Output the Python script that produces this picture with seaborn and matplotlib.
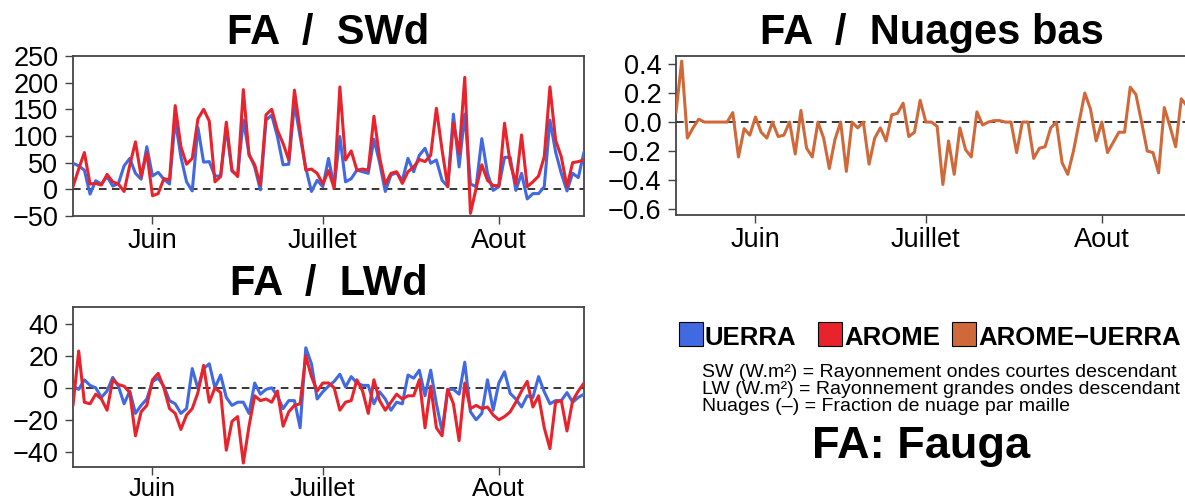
import numpy as np
import pandas as pd
import matplotlib
matplotlib.use("Agg")
import matplotlib.pyplot as plt
import seaborn as sns
from matplotlib.patches import Rectangle

# ---------------- data ----------------
start_date = "2018-05-18"
n_days = 91
month_ticks = ["2018-06-01", "2018-07-01", "2018-08-01"]
month_labels = ["Juin", "Juillet", "Aout"]

sw_uerra = [49, 44, 36, -9, 16, 10, 24, 6, 11, 44, 58, 30, 19, 80, 25, 32, 19, 10, 130, 61,
            14, -3, 116, 51, 52, 25, 25, 116, 34, 26, 130, 67, 42, -1, 130, 139, 99, 46, 47, 161,
            99, 40, -4, 17, 5, 58, 5, 99, 14, 20, 36, 33, 30, 94, 50, -4, 27, 31, 17, 58,
            33, 64, 77, 49, 55, 17, 5, 141, 42, 141, 10, 5, 95, 30, -2, 5, 60, 60, -2, 30,
            -18, -8, -8, 5, 130, 70, 30, -3, 30, 22, 70]
sw_arome = [5, 38, 69, 10, 11, 8, 28, 14, 10, -4, 45, 89, 24, 69, -12, -8, 20, 18, 157, 80,
            47, 58, 132, 150, 128, 14, 24, 126, 36, 24, 187, 64, 46, 8, 140, 150, 111, 86, 55, 186,
            110, 36, 38, 30, 10, 35, 2, 192, 55, 72, 36, 38, 36, 137, 60, 10, 30, 33, 11, 33,
            42, 56, 52, 64, 152, 74, 5, 124, 67, 210, -45, 2, 46, 17, 7, 7, 124, 49, 10, 102,
            5, 14, 25, 61, 192, 92, 61, 5, 50, 52, 55]
lw_uerra = [1, -1, 5, 1.5, 0, -6, -2, 6.5, 1, -10, -2, -16, -11, -7, 4, 6, 1, -8, -10, -16,
            -13, 12, -0.5, 12, 15, 0, 8, -6, -11, -9, -9, -16, 3, -4, -1, 0, -5, -13, -8, -8,
            -25, 25, 15, -7, -2.5, 1, 4, 8.5, 0.5, 7, 3, 1.5, 1.5, -10, -2.5, -7, -14, -9, -10, 8,
            6, 11, -5, 11, -10, -27, -1, -1, -4, 16, -15, -20, -16, 5, -14, 3, 10, -3.5, -7, -12,
            -5, -6, 7, -2.5, -10, -8, -8, -3, -9, -6, -4]
lw_arome = [-11, 23, -9, -10, -4, -7, -14, 5, 2, 1, -3, -30, -15, -11, 5, 9, 0, -13, -16, -26,
            -17, -13, -3, 14, -9, 0, -3, -39, -21, -18, -47, -24, -5, -8, -7, -9, -2, -24, -15, -11,
            -10, 20, 7, -2, 3, 3, 0, -14, -9, -8, 5, -2, -16, 5, -8, -14, -9, -4, -7, -5,
            -5, 5, -25, 1, -25, -30, -1, -10, -33, 3, -13, -11, -13, -12, -17, -20, -18, -15, -9, -2,
            4, -12, -5, -25, -38, -9, -8, -27, -8, -2, 3]
nuages_diff = [0.065, 0.42, -0.11, -0.04, 0.02, 0, 0, 0, 0, 0, 0.065, -0.24, -0.045, -0.09, 0.035,
               -0.07, -0.11, 0, -0.10, -0.09, 0, -0.22, 0.08, -0.18, -0.24, 0, -0.11, -0.32, -0.12, 0,
               -0.34, 0, -0.04, 0, -0.29, -0.11, -0.04, -0.13, 0.05, 0.06, 0.13, -0.10, -0.07, 0.15, 0,
               0, -0.03, -0.43, -0.13, -0.36, -0.04, -0.19, -0.24, 0.07, -0.02, 0, 0.01, 0.01, 0, 0,
               -0.21, 0, 0, -0.25, -0.18, -0.17, -0.04, 0, -0.28, -0.36, -0.20, 0.0, 0.20, 0.09, -0.13,
               0, -0.21, -0.14, -0.07, -0.07, 0.24, 0.19, 0, -0.20, -0.21, -0.35, 0.10, -0.03, -0.17, 0.16,
               0.11]

legend_names = ["UERRA", "AROME", "AROME\u2212UERRA"]
info_lines = ["SW (W.m\u00b2) = Rayonnement ondes courtes descendant",
              "LW (W.m\u00b2) = Rayonnement grandes ondes descendant",
              "Nuages (\u2013) = Fraction de nuage par maille"]
site_label = "FA: Fauga"

# ---------------- style ----------------
C_UERRA = "#4169e1"
C_AROME = "#e8232b"
C_DIFF = "#d0693a"

sns.set_style("ticks")
plt.rcParams["font.family"] = ["Liberation Sans", "DejaVu Sans"]
for k in ["text.color", "axes.labelcolor", "xtick.color", "ytick.color"]:
    plt.rcParams[k] = "black"

dates = pd.date_range(start_date, periods=n_days, freq="D")
tick_dates = pd.to_datetime(month_ticks)

W, H = 1185, 501
fig = plt.figure(figsize=(W / 100, H / 100), dpi=100)


def ax_at(x0, y0, x1, y1):
    return fig.add_axes([x0 / W, 1 - y1 / H, (x1 - x0) / W, (y1 - y0) / H])


def style_axes(ax, title, ylim, yticks, yfmt):
    ax.axhline(0, color="black", lw=1.1, ls=(0, (5, 3.5)), zorder=1.5)
    ax.set_xlim(dates[0], dates[-1])
    ax.set_ylim(*ylim)
    ax.set_yticks(yticks)
    ax.set_yticklabels([yfmt(v) for v in yticks])
    ax.set_xticks(tick_dates)
    ax.set_xticklabels(month_labels)
    ax.tick_params(axis="both", labelsize=19.5, length=5.5, width=1.0, color="#444444",
                   labelcolor="black", direction="out", pad=5)
    ax.tick_params(axis="x", pad=3)
    for s in ax.spines.values():
        s.set_visible(True)
        s.set_color("#444444")
        s.set_linewidth(1.3)
    ax.set_xlabel("")
    ax.set_ylabel("")
    ax.set_title(title, fontsize=30, fontweight="bold", pad=9, color="black")


def fmt_int(v):
    return f"{int(v)}".replace("-", "\u2212")


def fmt_1(v):
    return f"{v:.1f}".replace("-", "\u2212")


# SW panel
ax1 = ax_at(73, 56, 584, 216)
sns.lineplot(x=dates, y=sw_uerra, ax=ax1, color=C_UERRA, lw=2.2, zorder=3)
sns.lineplot(x=dates, y=sw_arome, ax=ax1, color=C_AROME, lw=2.2, zorder=4)
style_axes(ax1, "FA  /  SWd", (-50, 250), [-50, 0, 50, 100, 150, 200, 250], fmt_int)

# Nuages panel (right edge runs slightly past the image border)
ax2 = ax_at(676, 56, 1187, 215)
sns.lineplot(x=dates, y=nuages_diff, ax=ax2, color=C_DIFF, lw=2.2, zorder=3)
style_axes(ax2, "FA  /  Nuages bas", (-0.64, 0.455),
           [-0.6, -0.4, -0.2, 0.0, 0.2, 0.4], fmt_1)

# LW panel
ax3 = ax_at(73, 307, 584, 467)
sns.lineplot(x=dates, y=lw_uerra, ax=ax3, color=C_UERRA, lw=2.2, zorder=3)
sns.lineplot(x=dates, y=lw_arome, ax=ax3, color=C_AROME, lw=2.2, zorder=4)
style_axes(ax3, "FA  /  LWd", (-49.5, 50.5), [-40, -20, 0, 20, 40], fmt_int)
ax3.tick_params(axis="x", pad=2, labelsize=18.5)

# ---------------- legend block ----------------
sq = [(679, C_UERRA), (818, C_AROME), (952, C_DIFF)]
for (x0, col), name in zip(sq, legend_names):
    fig.add_artist(Rectangle((x0 / W, 1 - 346 / H), 24 / W, 24 / H,
                             transform=fig.transFigure, facecolor=col,
                             edgecolor="black", lw=0.8))
    fig.text((x0 + 26) / W, 1 - 345 / H, name, fontsize=18.5, fontweight="bold",
             ha="left", va="baseline")

for i, line in enumerate(info_lines):
    fig.text(702 / W, 1 - (377 + 17 * i) / H, line, fontsize=14.0,
             ha="left", va="baseline")

fig.text(921 / W, 1 - 458 / H, site_label, fontsize=32.5, fontweight="bold",
         ha="center", va="baseline")

fig.savefig("out.png", dpi=100)
